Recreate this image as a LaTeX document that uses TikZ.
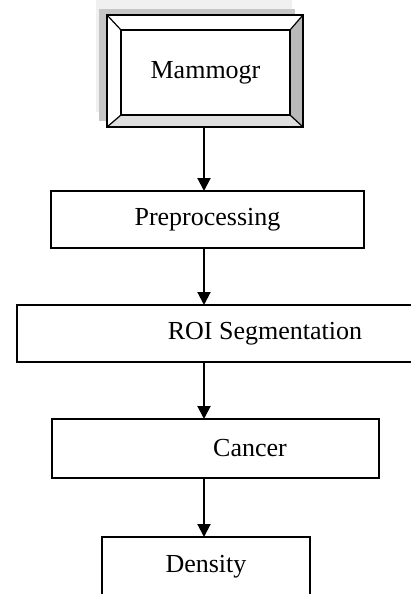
\documentclass[tikz,border=0pt]{standalone}
\usepackage{fontspec}
\setmainfont{Liberation Serif}
\usetikzlibrary{arrows.meta}
\usetikzlibrary{shadows}
\tikzset{	x=0.5pt, y=-0.5pt,
	every node/.style={
		font=\fontsize{13}{15}\selectfont,
		outer sep=0pt},
	stage/.style={
		draw,
		rectangle,
		line width=1pt,
		minimum height=28.5pt},
	flow/.style={
		draw,
		line width=1pt,
		-{Triangle[width=6.5pt,length=6.5pt]}}
}
\begin{document}
\begin{tikzpicture}
			\useasboundingbox (0,0) rectangle (411,594);
			\clip (0,0) rectangle (411,594);
			% framed source box with shadow
			\node[minimum width=98pt, minimum height=56pt, fill=white,
				drop shadow={shadow xshift=-5.5pt, shadow yshift=7.5pt, fill=gray!12, opacity=1},
				drop shadow={shadow xshift=-4pt, shadow yshift=3pt, fill=gray!45, opacity=1}] (mammo) at (205,71) {};
			\node[minimum width=84.5pt, minimum height=42.5pt] (mammoin) at (205.5,72.5) {Mammogr};
			\fill[gray!55] (mammo.north east) -- (mammo.south east) -- (mammoin.south east) -- (mammoin.north east) -- cycle;
			\fill[gray!25] (mammo.south west) -- (mammo.south east) -- (mammoin.south east) -- (mammoin.south west) -- cycle;
			\draw[line width=0.6pt] (mammo.north west) -- (mammoin.north west);
			\draw[line width=0.6pt] (mammo.north east) -- (mammoin.north east);
			\draw[line width=0.6pt] (mammo.south west) -- (mammoin.south west);
			\draw[line width=0.6pt] (mammo.south east) -- (mammoin.south east);
			\draw[line width=1.1pt] (mammo.north west) rectangle (mammo.south east);
			\draw[line width=0.9pt] (mammoin.north west) rectangle (mammoin.south east);
			% process stages
			\node[stage, minimum width=156.5pt] (prep) at (207.5,219.5) {Preprocessing};
			\node[stage, minimum width=248pt] (roi) at (265,333.5) {ROI Segmentation};
			\node[stage, minimum width=163.5pt, minimum height=29.5pt] (cancer) at (215.5,448.5) {\hspace*{34.5pt}Cancer};
			\node[stage, minimum width=104pt, minimum height=30pt] (density) at (206,567) {Density};
			% arrows
			\coordinate (axis) at (204,0);
			\draw[flow] (mammo.south -| axis) -- (prep.north -| axis);
			\draw[flow] (prep.south -| axis) -- (roi.north -| axis);
			\draw[flow] (roi.south -| axis) -- (cancer.north -| axis);
			\draw[flow] (cancer.south -| axis) -- (density.north -| axis);
		\end{tikzpicture}
\end{document}
